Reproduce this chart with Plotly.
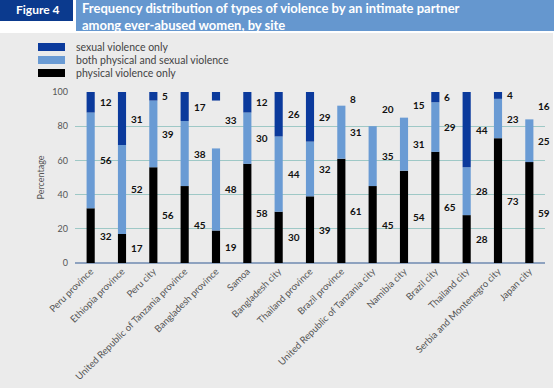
import plotly.graph_objects as go

sites = ["Peru province", "Ethiopia province", "Peru city", "United Republic of Tanzania province",
         "Bangladesh province", "Samoa", "Bangladesh city", "Thailand province", "Brazil province",
         "United Republic of Tanzania city", "Namibia city", "Brazil city", "Thailand city",
         "Serbia and Montenegro city", "Japan city"]
physical = [32, 17, 56, 45, 19, 58, 30, 39, 61, 45, 54, 65, 28, 73, 59]
both = [56, 52, 39, 38, 48, 30, 44, 32, 31, 35, 31, 29, 28, 23, 25]
sexual = [12, 31, 5, 17, 33, 12, 26, 29, 8, 20, 15, 6, 44, 4, 16]
# heights of the sexual-only segments as actually drawn in the picture (top-anchored at 100)
sexual_drawn = [12, 31, 5, 17, 5, 12, 26, 29, 0, 0, 0, 6, 44, 4, 0]

C_SEX = "#0b3a9c"
C_BOTH = "#6a9bd4"
C_PHYS = "#000000"
FONT = "Lato"

W, H = 560, 391
L, R, T, B = 75, 15, 92, 128
PW, PH = W - L - R, H - T - B


def px(x):
    return (x - L) / PW


def py(y):
    return (H - B - y) / PH


idx = list(range(len(sites)))
fig = go.Figure()
fig.add_bar(x=idx, y=physical, base=[0] * len(idx), marker_color=C_PHYS, width=0.26,
            marker_line_width=0, showlegend=False, hoverinfo="skip")
fig.add_bar(x=idx, y=both, base=physical, marker_color=C_BOTH, width=0.26,
            marker_line_width=0, showlegend=False, hoverinfo="skip")
fig.add_bar(x=idx, y=sexual_drawn, base=[100 - s for s in sexual_drawn], marker_color=C_SEX,
            width=0.26, marker_line_width=0, showlegend=False, hoverinfo="skip")

annotations = []
for i in idx:
    p, b, s = physical[i], both[i], sexual[i]
    for val, ymid in ((p, p / 2), (b, p + b / 2), (s, p + b + s / 2)):
        annotations.append(dict(x=i, y=ymid, xref="x", yref="y", text=str(val), showarrow=False,
                                xanchor="left", yanchor="middle", xshift=7,
                                font=dict(family=FONT, size=10, color="#111", weight="bold")))

shapes = []
# grey background panel
shapes.append(dict(type="rect", xref="paper", yref="paper", x0=px(0), x1=px(553), y0=py(388), y1=py(33),
                   fillcolor="#ebebeb", line_width=0, layer="below"))
# header boxes
shapes.append(dict(type="rect", xref="paper", yref="paper", x0=px(0), x1=px(73), y0=py(21), y1=py(0),
                   fillcolor="#0b3a8e", line_width=0, layer="below"))
shapes.append(dict(type="rect", xref="paper", yref="paper", x0=px(76), x1=px(554), y0=py(31), y1=py(0),
                   fillcolor="#6597cf", line_width=0, layer="below"))
annotations.append(dict(x=px(38), y=py(10), xref="paper", yref="paper", text="Figure 4", showarrow=False,
                        xanchor="center", yanchor="middle",
                        font=dict(family=FONT, size=12, color="white", weight="bold")))
annotations.append(dict(x=px(80), y=py(16), xref="paper", yref="paper",
                        text="Frequency distribution of types of violence by an intimate partner<br>among ever-abused women, by site",
                        showarrow=False, xanchor="left", yanchor="middle", align="left",
                        font=dict(family=FONT, size=13, color="white", weight="bold")))

# custom legend
legend_items = [("sexual violence only", C_SEX), ("both physical and sexual violence", C_BOTH),
                ("physical violence only", C_PHYS)]
for k, (name, col) in enumerate(legend_items):
    yc = 47 + 13 * k
    shapes.append(dict(type="rect", xref="paper", yref="paper", x0=px(38), x1=px(65), y0=py(yc + 4),
                       y1=py(yc - 4), fillcolor=col, line_width=0))
    annotations.append(dict(x=px(74), y=py(yc), xref="paper", yref="paper", text=name, showarrow=False,
                            xanchor="left", yanchor="middle",
                            font=dict(family=FONT, size=10.5, color="#444")))

fig.update_layout(
    width=W, height=H, margin=dict(l=L, r=R, t=T, b=B, autoexpand=False),
    paper_bgcolor="white", plot_bgcolor="rgba(0,0,0,0)",
    barmode="overlay", hovermode=False,
    shapes=shapes, annotations=annotations,
    font=dict(family=FONT, color="#555"),
)
fig.update_xaxes(tickmode="array", tickvals=idx, ticktext=sites, tickangle=-45,
                 range=[-0.5, len(sites) - 0.5], showgrid=False, zeroline=False, showline=False,
                 tickfont=dict(family=FONT, size=9.5, color="#555"), ticks="")
fig.update_yaxes(range=[0, 100], tickvals=[0, 20, 40, 60, 80, 100], showgrid=True, gridcolor="#9ec8c6",
                 gridwidth=1, zeroline=True, zerolinecolor="#8ea2bf", zerolinewidth=2,
                 tickfont=dict(family=FONT, size=9, color="#555"), ticklabelstandoff=6,
                 title=dict(text="Percentage", font=dict(family=FONT, size=9, color="#555"), standoff=6))

fig.write_html("out.html", config={"displayModeBar": False, "staticPlot": True},
               post_script="document.body.style.margin='0';document.body.style.overflow='hidden';")
